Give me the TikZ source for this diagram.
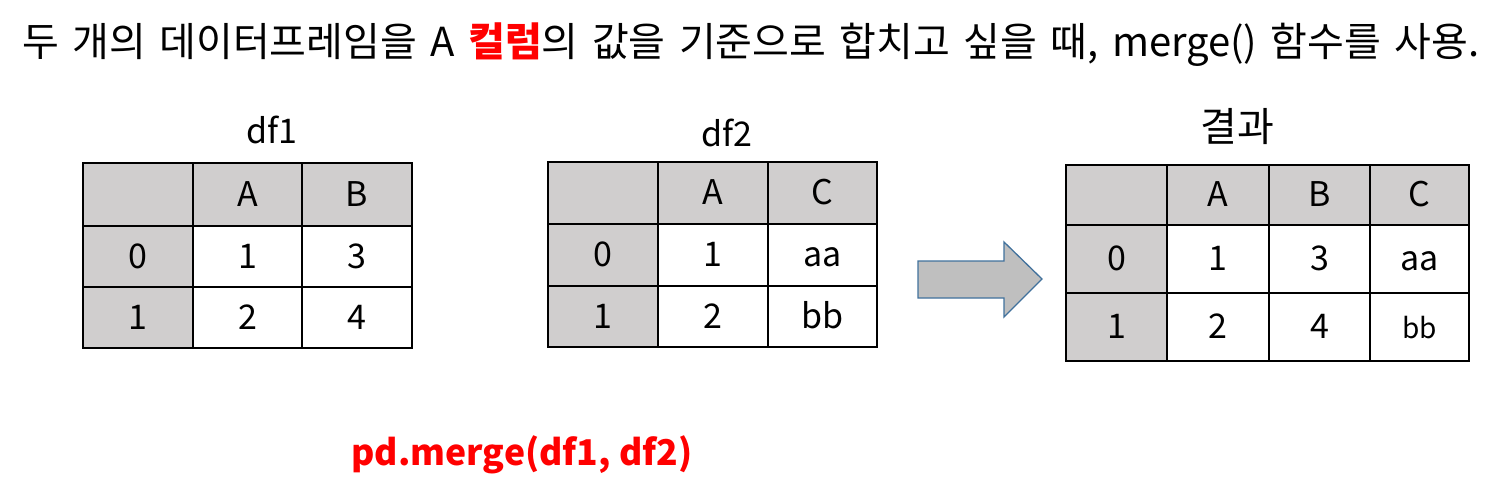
\documentclass[tikz,border=0pt]{standalone}
\usepackage{fontspec}
\setmainfont{Noto Sans CJK KR}
\newfontfamily\titlefont[WordSpace=1.5]{Noto Sans CJK KR}
\definecolor{hdr}{RGB}{208,206,206}
\definecolor{arrfill}{RGB}{191,191,191}
\definecolor{arrline}{RGB}{65,113,156}
\definecolor{myred}{RGB}{255,0,0}
\tikzset{
  cell/.style={draw=black, line width=1.6pt, inner sep=0pt, text height=23pt, text depth=0pt, font=\fontsize{34}{38}\selectfont},
  lbl/.style={inner sep=0pt, font=\fontsize{34}{38}\selectfont},
}
\newcommand{\mycell}[7]{%
  \node[cell, fill=#6, minimum width={(#4-#2)*1pt}, minimum height={(#5-#3)*1pt}] (#1) at ({(#2+#4)/2},{(#3+#5)/2}) {#7};}
\begin{document}
\begin{tikzpicture}[x=1pt,y=-1pt]
\useasboundingbox (0,0) rectangle (1510,495);
% title
\node[inner sep=0pt, anchor=west, font=\titlefont\fontsize{40}{44}\selectfont] (title) at (22,45)
  {두 개의 데이터프레임을 A \textcolor{myred}{\bfseries 컬럼}의 값을 기준으로 합치고 싶을 때, merge() 함수를 사용.};
% labels
\node[lbl] (l1) at (272,130) {df1};
\node[lbl] (l2) at (727,133) {df2};
\node[lbl, font=\fontsize{40}{44}\selectfont] (l3) at (1237,127) {결과};
% df1
\mycell{a00}{83}{163}{193}{226}{hdr}{}
\mycell{a01}{193}{163}{302}{226}{hdr}{A}
\mycell{a02}{302}{163}{412}{226}{hdr}{B}
\mycell{a10}{83}{226}{193}{287}{hdr}{0}
\mycell{a11}{193}{226}{302}{287}{white}{1}
\mycell{a12}{302}{226}{412}{287}{white}{3}
\mycell{a20}{83}{287}{193}{348}{hdr}{1}
\mycell{a21}{193}{287}{302}{348}{white}{2}
\mycell{a22}{302}{287}{412}{348}{white}{4}
% df2
\mycell{b00}{548}{162}{658}{224}{hdr}{}
\mycell{b01}{658}{162}{768}{224}{hdr}{A}
\mycell{b02}{768}{162}{877}{224}{hdr}{C}
\mycell{b10}{548}{224}{658}{286}{hdr}{0}
\mycell{b11}{658}{224}{768}{286}{white}{1}
\mycell{b12}{768}{224}{877}{286}{white}{aa}
\mycell{b20}{548}{286}{658}{347}{hdr}{1}
\mycell{b21}{658}{286}{768}{347}{white}{2}
\mycell{b22}{768}{286}{877}{347}{white}{bb}
% result
\mycell{c00}{1066}{165}{1167}{225}{hdr}{}
\mycell{c01}{1167}{165}{1269}{225}{hdr}{A}
\mycell{c02}{1269}{165}{1370}{225}{hdr}{B}
\mycell{c03}{1370}{165}{1469}{225}{hdr}{C}
\mycell{c10}{1066}{225}{1167}{293}{hdr}{0}
\mycell{c11}{1167}{225}{1269}{293}{white}{1}
\mycell{c12}{1269}{225}{1370}{293}{white}{3}
\mycell{c13}{1370}{225}{1469}{293}{white}{aa}
\mycell{c20}{1066}{293}{1167}{361}{hdr}{1}
\mycell{c21}{1167}{293}{1269}{361}{white}{2}
\mycell{c22}{1269}{293}{1370}{361}{white}{4}
\mycell{c23}{1370}{293}{1469}{361}{white}{\fontsize{28}{32}\selectfont bb}
% arrow
\draw[fill=arrfill, draw=arrline, line width=1.3pt, line join=miter]
  (918,261) -- (1004,261) -- (1004,242) -- (1042,279) -- (1004,317) -- (1004,298) -- (918,298) -- cycle;
% code
\node[inner sep=0pt, text=myred, font=\fontsize{35.5}{40}\selectfont\bfseries] (code) at (522,455) {pd.merge(df1, df2)};
\end{tikzpicture}
\end{document}
